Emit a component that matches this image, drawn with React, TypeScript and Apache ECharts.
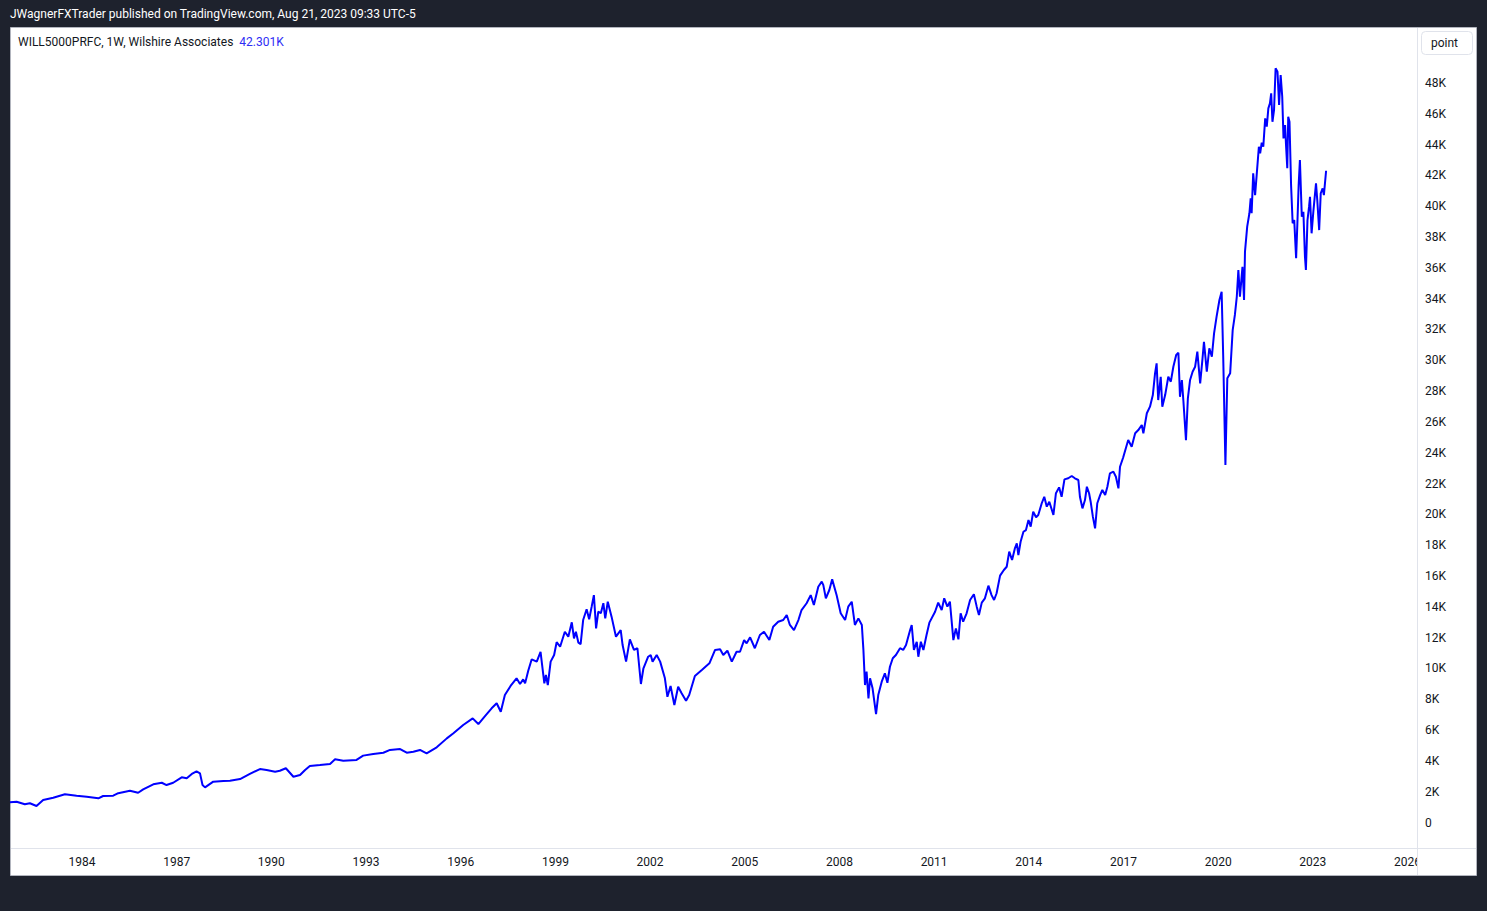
import React, { useEffect, useRef } from "react";
import * as echarts from "echarts";

// Decimal-year positions of the weekly closes
const years = [
  1981.72, 1981.93, 1982.19, 1982.35, 1982.56, 1982.77, 1983.09, 1983.46, 1983.83, 1984.15,
  1984.52, 1984.67, 1984.99, 1985.15, 1985.52, 1985.78, 1985.94, 1986.26, 1986.53, 1986.68,
  1986.89, 1987.16, 1987.32, 1987.48, 1987.63, 1987.74, 1987.82, 1987.90, 1988.16, 1988.48,
  1988.69, 1989.01, 1989.32, 1989.64, 1989.85, 1990.12, 1990.27, 1990.46, 1990.70, 1990.91,
  1991.07, 1991.22, 1991.54, 1991.86, 1992.02, 1992.28, 1992.70, 1992.91, 1993.23, 1993.55,
  1993.76, 1994.08, 1994.29, 1994.50, 1994.71, 1994.92, 1995.24, 1995.56, 1995.77, 1996.08,
  1996.38, 1996.56, 1996.77, 1996.98, 1997.14, 1997.27, 1997.40, 1997.58, 1997.77, 1997.88,
  1997.98, 1998.04, 1998.14, 1998.25, 1998.41, 1998.53, 1998.65, 1998.70, 1998.76, 1998.85,
  1998.96, 1999.04, 1999.15, 1999.30, 1999.41, 1999.52, 1999.59, 1999.65, 1999.73, 1999.80,
  1999.88, 1999.99, 2000.07, 2000.15, 2000.22, 2000.29, 2000.36, 2000.44, 2000.52, 2000.58,
  2000.66, 2000.78, 2000.92, 2001.07, 2001.13, 2001.24, 2001.36, 2001.49, 2001.60, 2001.71,
  2001.79, 2001.94, 2002.02, 2002.08, 2002.21, 2002.32, 2002.47, 2002.55, 2002.65, 2002.77,
  2002.89, 2003.00, 2003.14, 2003.24, 2003.42, 2003.64, 2003.88, 2004.06, 2004.22, 2004.32,
  2004.45, 2004.59, 2004.74, 2004.85, 2004.98, 2005.06, 2005.17, 2005.32, 2005.48, 2005.61,
  2005.78, 2005.90, 2006.06, 2006.22, 2006.33, 2006.43, 2006.56, 2006.70, 2006.80, 2006.96,
  2007.09, 2007.19, 2007.33, 2007.44, 2007.49, 2007.57, 2007.68, 2007.77, 2007.91, 2008.04,
  2008.18, 2008.28, 2008.39, 2008.49, 2008.60, 2008.71, 2008.76, 2008.81, 2008.86, 2008.92,
  2008.97, 2009.05, 2009.16, 2009.23, 2009.34, 2009.44, 2009.52, 2009.60, 2009.69, 2009.79,
  2009.92, 2010.02, 2010.11, 2010.24, 2010.29, 2010.36, 2010.45, 2010.50, 2010.58, 2010.66,
  2010.76, 2010.85, 2011.03, 2011.13, 2011.24, 2011.32, 2011.42, 2011.50, 2011.61, 2011.69,
  2011.77, 2011.84, 2011.92, 2012.03, 2012.14, 2012.26, 2012.35, 2012.42, 2012.51, 2012.61,
  2012.72, 2012.82, 2012.90, 2012.98, 2013.09, 2013.21, 2013.30, 2013.38, 2013.47, 2013.56,
  2013.62, 2013.67, 2013.74, 2013.83, 2013.91, 2013.99, 2014.06, 2014.14, 2014.23, 2014.30,
  2014.41, 2014.49, 2014.57, 2014.65, 2014.78, 2014.86, 2014.96, 2015.04, 2015.13, 2015.25,
  2015.36, 2015.46, 2015.57, 2015.62, 2015.70, 2015.78, 2015.84, 2015.91, 2015.96, 2016.03,
  2016.10, 2016.17, 2016.26, 2016.33, 2016.42, 2016.49, 2016.57, 2016.68, 2016.76, 2016.84,
  2016.89, 2016.99, 2017.15, 2017.26, 2017.37, 2017.47, 2017.58, 2017.63, 2017.74, 2017.84,
  2017.93, 2018.00, 2018.05, 2018.10, 2018.18, 2018.23, 2018.32, 2018.42, 2018.50, 2018.58,
  2018.67, 2018.74, 2018.79, 2018.85, 2018.90, 2018.98, 2019.04, 2019.11, 2019.19, 2019.27,
  2019.34, 2019.43, 2019.50, 2019.55, 2019.64, 2019.72, 2019.80, 2019.87, 2019.95, 2020.04,
  2020.11, 2020.16, 2020.23, 2020.29, 2020.38, 2020.46, 2020.53, 2020.59, 2020.64, 2020.69,
  2020.77, 2020.82, 2020.85, 2020.92, 2020.99, 2021.03, 2021.06, 2021.11, 2021.17, 2021.22,
  2021.29, 2021.33, 2021.38, 2021.43, 2021.49, 2021.54, 2021.59, 2021.64, 2021.68, 2021.72,
  2021.77, 2021.82, 2021.88, 2021.93, 2021.98, 2022.03, 2022.07, 2022.12, 2022.15, 2022.19,
  2022.22, 2022.26, 2022.31, 2022.36, 2022.41, 2022.47, 2022.51, 2022.55, 2022.59, 2022.65,
  2022.70, 2022.75, 2022.78, 2022.83, 2022.88, 2022.91, 2022.96, 2023.02, 2023.10, 2023.14,
  2023.20, 2023.25, 2023.31, 2023.35, 2023.42,
];

// WILL5000PRFC index level at each of those positions
const values = [
  1310, 1350, 1180, 1250, 1070, 1460, 1610, 1830, 1740, 1670,
  1570, 1720, 1740, 1900, 2060, 1930, 2150, 2480, 2580, 2430,
  2580, 2930, 2870, 3150, 3320, 3190, 2430, 2280, 2650, 2690,
  2710, 2820, 3150, 3470, 3410, 3300, 3360, 3520, 2970, 3080,
  3410, 3670, 3730, 3800, 4100, 4010, 4060, 4340, 4450, 4530,
  4710, 4770, 4530, 4590, 4710, 4490, 4880, 5460, 5790, 6330,
  6760, 6390, 6910, 7410, 7740, 7190, 8270, 8860, 9360, 8990,
  9290, 9030, 9850, 10590, 10440, 11080, 9030, 9570, 8920, 10440,
  10870, 11700, 11410, 12380, 12060, 12990, 11950, 12380, 11670, 11580,
  13140, 13840, 13190, 14010, 14760, 12600, 13680, 13580, 14230, 13250,
  14330, 13360, 12060, 12490, 11520, 10440, 11890, 11200, 11310, 8990,
  10010, 10760, 10870, 10440, 10870, 10440, 9360, 8160, 8860, 7630,
  8810, 8390, 7900, 8270, 9510, 9900, 10330, 11200, 11240, 10870,
  11150, 10440, 11080, 11080, 11840, 11630, 12020, 11310, 12170, 12380,
  11840, 12710, 13030, 13140, 13470, 12820, 12490, 13140, 13790, 14230,
  14760, 14120, 15300, 15630, 15410, 14550, 15090, 15780, 14760, 13580,
  13140, 14010, 14330, 12820, 13250, 12820, 11200, 8920, 9790, 8060,
  9360, 8710, 7040, 8270, 9140, 9680, 9070, 10110, 10660, 10870,
  11310, 11200, 11520, 12490, 12820, 11200, 11730, 10760, 11730, 11200,
  12170, 12970, 13680, 14270, 13790, 14550, 14010, 14330, 11840, 12600,
  11890, 13580, 13030, 13580, 14440, 14810, 14010, 13470, 14270, 14550,
  15370, 14760, 14440, 14880, 16020, 16390, 16600, 17580, 17040, 17800,
  18120, 17360, 18220, 18870, 18980, 19630, 19200, 20170, 19810, 19960,
  20720, 21140, 20500, 20820, 19960, 21370, 21750, 21140, 22270, 22340,
  22490, 22340, 22230, 21140, 20390, 20930, 21790, 21370, 20820, 19850,
  19090, 20720, 21250, 21580, 21250, 21790, 22660, 22770, 22440, 21690,
  23090, 23690, 24820, 24390, 25260, 25470, 25800, 25260, 26560, 26990,
  27740, 29150, 29800, 27420, 28930, 26990, 27740, 28930, 28610, 29580,
  30340, 30490, 27630, 28720, 27310, 24820, 27530, 28720, 29260, 29580,
  30560, 28500, 30020, 31200, 29260, 30780, 30230, 31750, 32830, 33910,
  34450, 30230, 23200, 28830, 29150, 31960, 32940, 34120, 35860, 34120,
  36070, 33910, 37050, 38670, 39540, 40510, 39540, 42130, 40720, 42020,
  43860, 43430, 44120, 43860, 45700, 45160, 46350, 46680, 47320, 45480,
  46240, 48950, 48730, 46570, 48510, 47100, 44400, 45270, 43970, 42460,
  45810, 45480, 41370, 38890, 39100, 36620, 38890, 41370, 43000, 39320,
  39640, 36720, 35860, 39100, 39970, 40610, 38240, 39750, 41480, 40400,
  38450, 40840, 41160, 40720, 42301,
];

const xTickYears = [1984, 1987, 1990, 1993, 1996, 1999, 2002, 2005, 2008, 2011, 2014, 2017, 2020, 2023, 2026];
const yTickValues = [
  0, 2000, 4000, 6000, 8000, 10000, 12000, 14000, 16000, 18000, 20000, 22000, 24000,
  26000, 28000, 30000, 32000, 34000, 36000, 38000, 40000, 42000, 44000, 46000, 48000,
];

const headerText = "JWagnerFXTrader published on TradingView.com, Aug 21, 2023 09:33 UTC-5";
const symbolText = "WILL5000PRFC, 1W, Wilshire Associates";
const lastValueText = "42.301K";
const buttonText = "point";

const FONT = "Roboto, 'Open Sans', sans-serif";

export default function App() {
  const ref = useRef<HTMLDivElement>(null);

  useEffect(() => {
    if (!ref.current) return;
    const chart = echarts.init(ref.current, null, { renderer: "svg" });
    const seriesData = years.map((y, i) => [y, values[i]]);

    chart.setOption({
      animation: false,
      backgroundColor: "#1e222d",
      textStyle: { fontFamily: FONT },
      grid: {
        left: 10,
        top: 27,
        width: 1407,
        height: 821,
        containLabel: false,
        outerBoundsMode: "none",
      },
      xAxis: {
        type: "value",
        min: 1981.72,
        max: 2026.3,
        axisLine: { show: false },
        axisTick: { show: false },
        splitLine: { show: false },
        axisLabel: {
          customValues: xTickYears,
          formatter: (v: number) => String(Math.round(v)),
          color: "#131722",
          fontSize: 12,
          fontFamily: FONT,
          margin: 8,
        },
      },
      yAxis: {
        type: "value",
        position: "right",
        min: -1655,
        max: 51630,
        axisLine: { show: false },
        axisTick: { show: false },
        splitLine: { show: false },
        axisLabel: {
          customValues: yTickValues,
          formatter: (v: number) => (v === 0 ? "0" : `${Math.round(v / 1000)}K`),
          color: "#131722",
          fontSize: 12,
          fontFamily: FONT,
          margin: 8,
        },
      },
      graphic: [
        {
          type: "rect",
          z: -100,
          shape: { x: 10.5, y: 27.5, width: 1466, height: 848 },
          style: { fill: "#ffffff", stroke: "#b2b5be", lineWidth: 1 },
        },
        {
          type: "text",
          x: 10,
          y: 14,
          style: {
            text: headerText,
            fill: "#ffffff",
            font: `normal 12px ${FONT}`,
            verticalAlign: "middle",
          },
        },
        {
          type: "text",
          x: 18,
          y: 42,
          z: 50,
          style: {
            text: `{a|${symbolText}}{g| }{b|${lastValueText}}`,
            verticalAlign: "middle",
            rich: {
              a: { fill: "#131722", fontSize: 12, fontFamily: FONT },
              g: { fontSize: 12, width: 6 },
              b: { fill: "#2d2df5", fontSize: 12, fontFamily: FONT },
            },
          },
        },
        {
          type: "rect",
          z: 50,
          shape: { x: 1421.5, y: 31.5, width: 51, height: 23, r: 4 },
          style: { fill: "#ffffff", stroke: "#e0e3eb", lineWidth: 1 },
        },
        {
          type: "text",
          z: 51,
          x: 1444.5,
          y: 43,
          style: {
            text: buttonText,
            fill: "#131722",
            font: `12px ${FONT}`,
            align: "center",
            verticalAlign: "middle",
          },
        },
        {
          type: "rect",
          z: 60,
          shape: { x: 1418, y: 849, width: 57, height: 25 },
          style: { fill: "#ffffff" },
        },
        {
          type: "line",
          z: 70,
          shape: { x1: 1417.5, y1: 28, x2: 1417.5, y2: 875 },
          style: { stroke: "#e0e3eb", lineWidth: 1 },
        },
        {
          type: "line",
          z: 70,
          shape: { x1: 11, y1: 848.5, x2: 1476, y2: 848.5 },
          style: { stroke: "#e0e3eb", lineWidth: 1 },
        },
      ],
      series: [
        {
          type: "line",
          data: seriesData,
          showSymbol: false,
          symbol: "none",
          silent: true,
          lineStyle: { color: "#0000ff", width: 2 },
          itemStyle: { color: "#0000ff" },
          z: 10,
        },
      ],
    });

    return () => chart.dispose();
  }, []);

  return (
    <div
      ref={ref}
      style={{ position: "fixed", left: 0, top: 0, width: 1487, height: 911 }}
    />
  );
}
